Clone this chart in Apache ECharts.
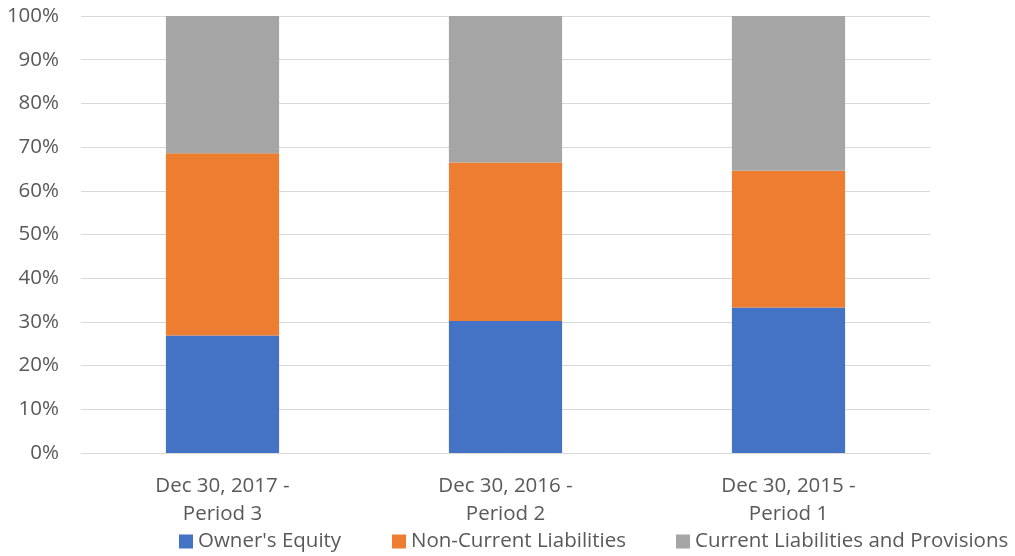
<!DOCTYPE html>
<html>
<head>
<meta charset="utf-8">
<script src="https://cdn.jsdelivr.net/npm/echarts@6/dist/echarts.min.js"></script>
<style>
  html, body { margin: 0; padding: 0; background: #fff; }
  #chart { width: 1015px; height: 556px; }
</style>
</head>
<body>
<div id="chart"></div>
<script>
// Balance sheet structure, share of total (%)
const categories = ['Dec 30, 2017 -\nPeriod 3', 'Dec 30, 2016 -\nPeriod 2', 'Dec 30, 2015 -\nPeriod 1'];
const ownersEquity = [26.9, 30.2, 33.3];
const nonCurrentLiabilities = [41.7, 36.3, 31.3];
const currentLiabilities = [31.4, 33.5, 35.4];
const seriesNames = ["Owner's Equity", 'Non-Current Liabilities', 'Current Liabilities and Provisions'];
const colors = ['#4472C4', '#ED7D31', '#A5A5A5'];

const FONT = 'Open Sans';
const TEXT = '#595959';
const SIZE = 20.5;

const chart = echarts.init(document.getElementById('chart'));

function legendAt(name, left) {
  return {
    data: [name],
    left: left,
    top: 526,
    itemWidth: 14,
    itemHeight: 14,
    itemGap: 0,
    icon: 'rect',
    textStyle: { fontFamily: FONT, fontSize: SIZE, color: TEXT },
    selectedMode: false
  };
}

function barSeries(i, values) {
  return {
    name: seriesNames[i],
    type: 'bar',
    stack: 'total',
    barWidth: '40%',
    data: values,
    itemStyle: { color: colors[i] }
  };
}

chart.setOption({
  animation: false,
  color: colors,
  grid: { left: 81, right: 85, top: 16, bottom: 103, containLabel: false },
  legend: [
    legendAt(seriesNames[0], 174),
    legendAt(seriesNames[1], 387),
    legendAt(seriesNames[2], 671)
  ],
  xAxis: {
    type: 'category',
    data: categories,
    axisLine: { show: false },
    axisTick: { show: false },
    axisLabel: {
      fontFamily: FONT, fontSize: SIZE, color: TEXT,
      lineHeight: 28, margin: 19, interval: 0
    }
  },
  yAxis: {
    type: 'value',
    min: 0,
    max: 100,
    interval: 10,
    axisLine: { show: false },
    axisTick: { show: false },
    splitLine: { lineStyle: { color: '#D9D9D9', width: 1 } },
    axisLabel: {
      fontFamily: FONT, fontSize: SIZE, color: TEXT, margin: 22,
      formatter: v => v + '%'
    }
  },
  series: [
    barSeries(0, ownersEquity),
    barSeries(1, nonCurrentLiabilities),
    barSeries(2, currentLiabilities)
  ]
});
</script>
</body>
</html>
